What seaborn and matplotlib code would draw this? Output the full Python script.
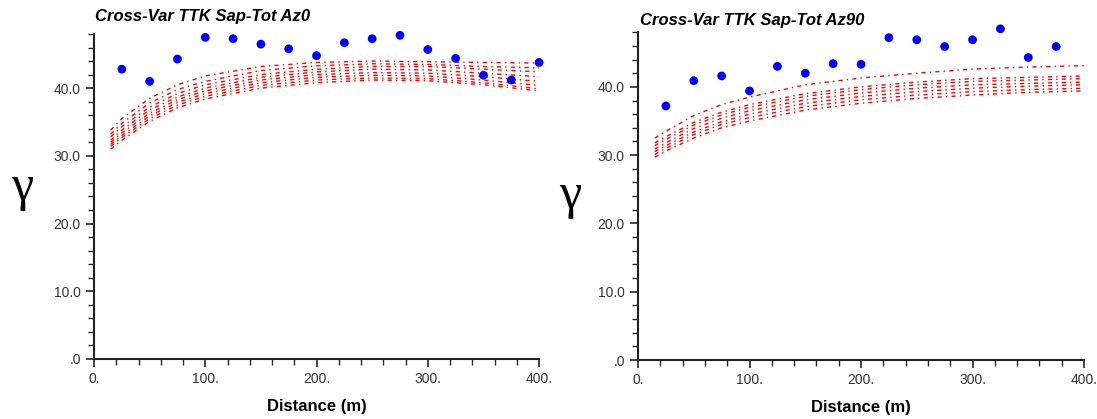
import numpy as np
import pandas as pd
import seaborn as sns
import matplotlib.pyplot as plt
from matplotlib.ticker import MultipleLocator, FuncFormatter

# experimental points (lag, gamma)
lags_left = [25, 50, 75, 100, 125, 150, 175, 200, 225, 250, 275, 300, 325, 350, 375, 400]
gam_left = [42.8, 41.0, 44.3, 47.5, 47.3, 46.5, 45.8, 44.8, 46.7, 47.3, 47.8, 45.7, 44.4, 41.9, 41.2, 43.8]

lags_right = [25, 50, 75, 100, 125, 150, 175, 200, 225, 250, 275, 300, 325, 350, 375]
gam_right = [37.2, 40.9, 41.6, 39.4, 43.0, 42.0, 43.4, 43.3, 47.2, 46.9, 45.9, 46.9, 48.5, 44.3, 45.9]

# model curves
curve_x = [15, 25, 50, 75, 100, 150, 200, 250, 300, 350, 400]
curves_left = [
    [33.8, 35.5, 38.5, 40.5, 41.8, 43.2, 43.8, 44.0, 43.9, 43.8, 43.7],
    [33.2, 34.8, 37.8, 39.8, 41.0, 42.6, 43.3, 43.6, 43.5, 43.2, 43.0],
    [32.8, 34.3, 37.2, 39.2, 40.5, 42.0, 42.8, 43.2, 43.2, 42.8, 42.4],
    [32.3, 33.8, 36.8, 38.7, 40.0, 41.6, 42.4, 42.8, 42.7, 42.2, 41.7],
    [32.0, 33.4, 36.3, 38.3, 39.6, 41.2, 42.0, 42.3, 42.2, 41.7, 41.0],
    [31.7, 33.0, 35.9, 37.9, 39.2, 40.8, 41.6, 41.9, 41.8, 41.2, 40.4],
    [31.4, 32.7, 35.5, 37.5, 38.8, 40.4, 41.2, 41.5, 41.4, 40.8, 39.9],
    [31.0, 32.3, 35.1, 37.1, 38.4, 40.0, 40.8, 41.2, 41.1, 40.5, 39.6],
]
curves_right = [
    [32.5, 33.5, 35.8, 37.4, 38.5, 40.3, 41.3, 42.0, 42.6, 42.9, 43.1],
    [31.8, 32.7, 34.8, 36.3, 37.4, 39.0, 40.0, 40.7, 41.2, 41.4, 41.6],
    [31.4, 32.3, 34.4, 35.9, 37.0, 38.6, 39.6, 40.3, 40.8, 41.0, 41.2],
    [30.9, 31.8, 33.9, 35.4, 36.5, 38.1, 39.1, 39.8, 40.3, 40.5, 40.7],
    [30.5, 31.4, 33.4, 34.9, 36.0, 37.6, 38.6, 39.3, 39.8, 40.1, 40.3],
    [30.1, 31.0, 33.0, 34.5, 35.5, 37.1, 38.1, 38.8, 39.3, 39.6, 39.8],
    [29.7, 30.6, 32.5, 34.0, 35.0, 36.6, 37.6, 38.3, 38.8, 39.2, 39.4],
]

titles = ["Cross-Var TTK Sap-Tot Az0", "Cross-Var TTK Sap-Tot Az90"]

sns.set_style("ticks")
plt.rcParams['font.family'] = ['Liberation Sans', 'DejaVu Sans']

fig = plt.figure(figsize=(10.97, 4.19), dpi=100)
ax1 = fig.add_axes([0.0857, 0.1432, 0.4057, 0.7757])
ax2 = fig.add_axes([0.5816, 0.1408, 0.4066, 0.7823])


def long_df(curves):
    rows = []
    for i, c in enumerate(curves):
        for xv, yv in zip(curve_x, c):
            rows.append({"curve": i, "dist": xv, "gamma": yv})
    return pd.DataFrame(rows)


# axes, points, curves, title, title pos (px), gamma pos (px)
panels = [
    (ax1, lags_left, gam_left, curves_left, titles[0], (95, 16), (22, 188)),
    (ax2, lags_right, gam_right, curves_right, titles[1], (640, 20), (570, 196)),
]

for ax, lx, ly, curves, title, tpos, gpos in panels:
    df = long_df(curves)
    sns.lineplot(data=df, x="dist", y="gamma", units="curve", estimator=None,
                 color="red", linewidth=1.0, linestyle=(0, (3, 3, 1, 3)), ax=ax)
    pts = pd.DataFrame({"dist": lx, "gamma": ly})
    sns.scatterplot(data=pts, x="dist", y="gamma", color="#0000ff", s=40,
                    edgecolor="none", ax=ax, zorder=5, clip_on=False)

    ax.set_xlim(0, 400)
    ax.set_ylim(0, 48)
    ax.xaxis.set_major_locator(MultipleLocator(100))
    ax.xaxis.set_minor_locator(MultipleLocator(20))
    ax.yaxis.set_major_locator(MultipleLocator(10))
    ax.yaxis.set_minor_locator(MultipleLocator(2))
    ax.xaxis.set_major_formatter(FuncFormatter(lambda v, p: "%d." % v))
    ax.yaxis.set_major_formatter(FuncFormatter(lambda v, p: ".0" if v == 0 else "%.1f" % v))
    ax.tick_params(which="major", direction="out", length=6, width=1.2,
                   labelsize=10, labelcolor="#333333")
    ax.tick_params(which="minor", direction="out", length=4, width=1.0)
    sns.despine(ax=ax)
    for s in ["left", "bottom"]:
        ax.spines[s].set_linewidth(1.5)
        ax.spines[s].set_color("#222222")
    ax.set_ylabel("")
    ax.set_xlabel("Distance (m)", fontsize=12, fontweight="bold", labelpad=9,
                  color="black")
    fig.text(tpos[0] / 1097, 1 - tpos[1] / 419, title, fontsize=12, color="black",
             fontweight="bold", fontstyle="italic", ha="left", va="center")
    fig.text(gpos[0] / 1097, 1 - gpos[1] / 419, "γ", fontsize=36, ha="center",
             va="center", color="black", family=["Liberation Serif", "DejaVu Serif"])

fig.savefig("out.png", dpi=100)
